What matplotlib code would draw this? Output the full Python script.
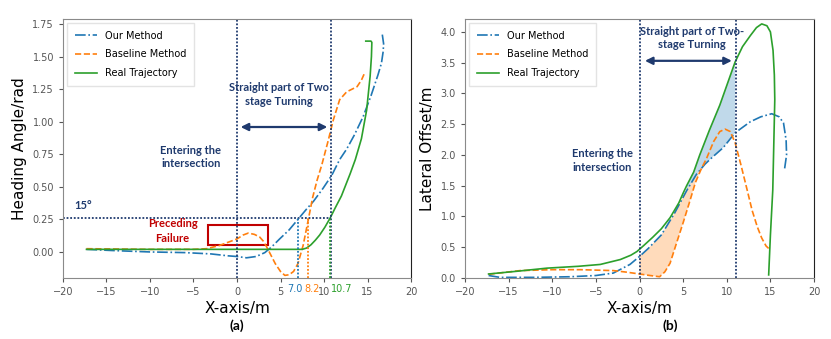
import numpy as np
import matplotlib
matplotlib.use('Agg')
import matplotlib.pyplot as plt
from matplotlib.ticker import FormatStrFormatter

# ---- (a) heading angle ----
a_green_x = [-17.3, -12, -6, 0, 5, 7.5, 8.0, 8.5, 9.0, 9.5, 10.1, 10.7, 11.3, 12.0, 13.0,
             13.6, 14.3, 14.9, 15.3, 15.45, 15.5, 15.4, 14.8]
a_green_y = [0.02, 0.02, 0.02, 0.02, 0.02, 0.02, 0.03, 0.055, 0.09, 0.13, 0.19, 0.26, 0.34,
             0.43, 0.6, 0.71, 0.87, 1.09, 1.35, 1.5, 1.61, 1.62, 1.62]

a_blue_x = [-17.3, -14, -10, -6, -3, -1, 0, 1.1, 2.2, 3.2, 4.0, 4.9, 6.0, 7.0, 8.0, 8.8, 9.9,
            10.9, 11.8, 12.6, 13.5, 14.5, 15.4, 16.2, 16.6, 16.8, 16.85, 16.7]
a_blue_y = [0.02, 0.01, 0.0, -0.005, -0.015, -0.03, -0.035, -0.045, -0.035, -0.005, 0.04, 0.1,
            0.17, 0.25, 0.33, 0.39, 0.49, 0.59, 0.71, 0.79, 0.9, 1.04, 1.2, 1.36, 1.45, 1.54,
            1.6, 1.67]

a_orange_x = [-17.3, -10, -5, -3.5, -2, -1, 0, 0.7, 1.3, 2.0, 2.6, 3.0, 3.4, 3.9, 4.4, 5.0,
              5.5, 6.0, 6.5, 7.0, 7.6, 8.2, 8.7, 9.2, 9.75, 10.5, 11.05, 11.8, 12.6, 13.8,
              14.3, 14.7]
a_orange_y = [0.025, 0.02, 0.02, 0.025, 0.05, 0.075, 0.10, 0.13, 0.145, 0.135, 0.115, 0.085,
              0.04, -0.025, -0.09, -0.15, -0.18, -0.175, -0.15, -0.09, 0.05, 0.25, 0.42,
              0.55, 0.67, 0.86, 1.01, 1.17, 1.23, 1.27, 1.32, 1.38]

a_cross = {'7.0': 7.0, '8.2': 8.2, '10.7': 10.7}
a_threshold = 0.2618  # 15 degrees
a_zone = (0, 10.8)

# ---- (b) lateral offset ----
b_green_x = [-17.3, -14, -10.6, -7, -4.5, -2.2, -1, -0.3, 0.5, 1.5, 2.5, 3.5, 4.5, 5.0, 5.4,
             6.2, 6.9, 8.0, 9.2, 10.1, 10.95, 11.8, 12.7, 13.4, 14.0, 14.6, 15.0, 15.3, 15.45,
             15.5, 15.27, 15.0, 14.8]
b_green_y = [0.065, 0.11, 0.16, 0.19, 0.22, 0.30, 0.37, 0.43, 0.53, 0.66, 0.80, 0.98, 1.22,
             1.38, 1.5, 1.72, 2.0, 2.4, 2.81, 3.17, 3.51, 3.76, 3.94, 4.07, 4.13, 4.10, 4.0,
             3.7, 3.3, 2.9, 1.43, 0.7, 0.05]

b_blue_x = [-17.3, -16, -12, -8, -5, -3, -1.1, 0, 1, 2.5, 4.0, 5.4, 6.5, 7.5, 8.4, 9.6, 10.95,
            12.7, 13.9, 15.15, 16.0, 16.5, 16.8, 16.85, 16.7, 16.6]
b_blue_y = [0.04, 0.01, 0.01, 0.02, 0.04, 0.08, 0.22, 0.35, 0.48, 0.70, 1.05, 1.42, 1.68, 1.85,
            1.97, 2.12, 2.36, 2.54, 2.62, 2.67, 2.62, 2.52, 2.24, 2.0, 1.85, 1.75]

b_orange_x = [-17.3, -13.7, -10, -6.8, -3.0, -1.5, 0, 1.2, 2.3, 2.9, 3.5, 4.2, 5.0, 5.7, 6.4,
              7.0, 7.7, 8.5, 9.2, 9.8, 10.4, 10.95, 11.6, 12.3, 12.9, 13.5, 14.0, 14.5, 14.8]
b_orange_y = [0.06, 0.12, 0.135, 0.135, 0.12, 0.095, 0.065, 0.04, 0.02, 0.1, 0.24, 0.55, 0.9,
              1.22, 1.55, 1.75, 1.95, 2.22, 2.38, 2.42, 2.38, 2.2, 1.85, 1.45, 1.1, 0.83, 0.65,
              0.52, 0.48]

b_zone = (0, 11)

NAVY = '#1f3a6e'
RED = '#c00000'
BLUE, ORANGE, GREEN = '#1f77b4', '#ff7f0e', '#2ca02c'
ANN_FONT = ['Lato', 'DejaVu Sans']

fig = plt.figure(figsize=(8.31, 3.39), dpi=100)
ax1 = fig.add_axes([0.0758, 0.180, 0.4188, 0.764])
ax2 = fig.add_axes([0.5596, 0.180, 0.420, 0.764])


def style_axes(ax):
    for side in ['left', 'top', 'bottom']:
        ax.spines[side].set_color('#8a8a8a')
    ax.spines['right'].set_color('#222222')
    ax.tick_params(labelsize=7, colors='#555555', length=3)
    ax.set_xlim(-20, 20)
    ax.set_xticks(np.arange(-20, 21, 5))
    ax.set_xlabel('X-axis/m', fontsize=11, labelpad=3)


def draw_lines(ax, gx, gy, bx, by, ox, oy):
    ax.plot(bx, by, '-.', color=BLUE, lw=1.2, label='Our Method')
    ax.plot(ox, oy, '--', color=ORANGE, lw=1.2, label='Baseline Method')
    ax.plot(gx, gy, '-', color=GREEN, lw=1.2, label='Real Trajectory')
    ax.legend(loc='upper left', fontsize=7, labelspacing=0.9, handlelength=2.3,
              borderpad=0.8, borderaxespad=0.4, fancybox=False, edgecolor='#dddddd')


# ---------- panel (a) ----------
draw_lines(ax1, a_green_x, a_green_y, a_blue_x, a_blue_y, a_orange_x, a_orange_y)
style_axes(ax1)
ax1.set_ylim(-0.2, 1.79)
ax1.set_yticks(np.arange(0, 1.76, 0.25))
ax1.yaxis.set_major_formatter(FormatStrFormatter('%.2f'))
ax1.set_ylabel('Heading Angle/rad', fontsize=11)

dot = (0, (1, 1))
ax1.axvline(a_zone[0], color=NAVY, ls=dot, lw=1.3)
ax1.axvline(a_zone[1], color=NAVY, ls=dot, lw=1.3)
ax1.plot([-20, a_zone[1]], [a_threshold, a_threshold], color=NAVY, ls=dot, lw=1.3)
for (lab, xv), c in zip(a_cross.items(), [BLUE, ORANGE, GREEN]):
    ax1.plot([xv, xv], [-0.2, a_threshold], color=c, ls=dot, lw=1.3)
ax1.text(6.7, -0.245, '7.0', color=BLUE, fontsize=7, ha='center', va='top')
ax1.text(8.6, -0.245, '8.2', color=ORANGE, fontsize=7, ha='center', va='top')
ax1.text(10.75, -0.245, '10.7', color=GREEN, fontsize=7, ha='left', va='top')

ax1.add_patch(plt.Rectangle((-3.3, 0.05), 6.9, 0.16, fill=False, edgecolor=RED, lw=1.5))
ax1.text(-7.4, 0.16, 'Preceding\nFailure', color=RED, fontsize=8, fontweight='bold',
         ha='center', va='center', family=ANN_FONT, linespacing=1.4)
ax1.text(-18.7, 0.36, '15°', color=NAVY, fontsize=8, fontweight='bold', ha='left',
         va='center', family=ANN_FONT)
ax1.text(-5.3, 0.73, 'Entering the\nintersection', color=NAVY, fontsize=8,
         fontweight='bold', ha='center', va='center', family=ANN_FONT, linespacing=1.3)
ax1.text(4.8, 1.21, 'Straight part of Two\nstage Turning', color=NAVY, fontsize=8,
         fontweight='bold', ha='center', va='center', family=ANN_FONT, linespacing=1.3)
ax1.annotate('', xy=(a_zone[1] - 0.1, 0.96), xytext=(a_zone[0] + 0.1, 0.96),
             arrowprops=dict(arrowstyle='<|-|>', color=NAVY, lw=1.6, mutation_scale=11))

# ---------- panel (b) ----------
bgx, bgy = np.array(b_green_x), np.array(b_green_y)
bbx, bby = np.array(b_blue_x), np.array(b_blue_y)
box, boy = np.array(b_orange_x), np.array(b_orange_y)

# shaded gaps: baseline vs ours before x=7, ours vs real up to the zone end
m_b = (bbx >= 0) & (bbx <= 7.0)
m_o = (box >= 0) & (box <= 7.0)
ax2.fill(np.r_[bbx[m_b], box[m_o][::-1]], np.r_[bby[m_b], boy[m_o][::-1]],
         color=ORANGE, alpha=0.28, lw=0)
m_g = (bgx >= 5.4) & (bgx <= 11) & (bgy < 3.6)
m_b2 = (bbx >= 5.4) & (bbx <= 11)
ax2.fill(np.r_[bgx[m_g], bbx[m_b2][::-1]], np.r_[bgy[m_g], bby[m_b2][::-1]],
         color=BLUE, alpha=0.28, lw=0)

draw_lines(ax2, b_green_x, b_green_y, b_blue_x, b_blue_y, b_orange_x, b_orange_y)
style_axes(ax2)
ax2.set_ylim(0, 4.21)
ax2.set_yticks(np.arange(0, 4.01, 0.5))
ax2.yaxis.set_major_formatter(FormatStrFormatter('%.1f'))
ax2.set_ylabel('Lateral Offset/m', fontsize=11)

ax2.axvline(b_zone[0], color=NAVY, ls=dot, lw=1.3)
ax2.axvline(b_zone[1], color=NAVY, ls=dot, lw=1.3)
ax2.text(-4.3, 1.91, 'Entering the\nintersection', color=NAVY, fontsize=8,
         fontweight='bold', ha='center', va='center', family=ANN_FONT, linespacing=1.3)
ax2.text(6.0, 3.9, 'Straight part of Two-\nstage Turning', color=NAVY, fontsize=8,
         fontweight='bold', ha='center', va='center', family=ANN_FONT, linespacing=1.3)
ax2.annotate('', xy=(b_zone[1] - 0.1, 3.53), xytext=(b_zone[0] + 0.3, 3.53),
             arrowprops=dict(arrowstyle='<|-|>', color=NAVY, lw=1.6, mutation_scale=11))

fig.text(237 / 831, 1 - 326 / 339, '(a)', fontsize=10, fontweight='bold', ha='center',
         va='center', family=ANN_FONT)
fig.text(670 / 831, 1 - 326 / 339, '(b)', fontsize=10, fontweight='bold', ha='center',
         va='center', family=ANN_FONT)

fig.savefig('out.png', dpi=100)
